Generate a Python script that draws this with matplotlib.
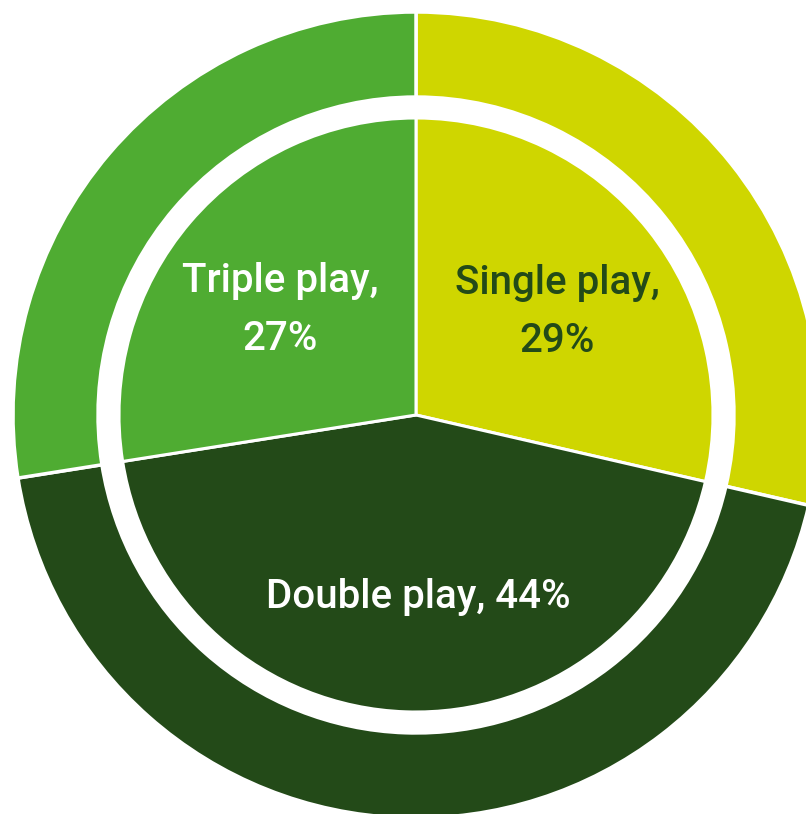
import matplotlib
matplotlib.use("Agg")
import matplotlib.pyplot as plt

# Data (wedge sizes, labels as printed)
labels = ["Single play", "Double play", "Triple play"]
shares = [28.6, 43.9, 27.5]
pct_labels = ["29%", "44%", "27%"]
colors = ["#cfd600", "#234a18", "#4fac32"]
text_colors = ["#234a18", "white", "white"]

W, H = 806, 814
fig = plt.figure(figsize=(W / 100, H / 100), dpi=100)
fig.patch.set_facecolor("white")

# circle centre at (416, 415) px, outer radius 403 px
cx, cy, r = 416, 415, 403
ax = fig.add_axes([(cx - r) / W, (H - cy - r) / H, 2 * r / W, 2 * r / H])
ax.axis("off")

# outer ring
ax.pie(shares, colors=colors, startangle=90, counterclock=False, radius=1.0,
       wedgeprops=dict(width=1.0 - 0.789, edgecolor="white", linewidth=2.5))
# inner pie
ax.pie(shares, colors=colors, startangle=90, counterclock=False, radius=0.737,
       wedgeprops=dict(edgecolor="white", linewidth=2.2))

ax.set_xlim(-1, 1)
ax.set_ylim(-1, 1)
ax.set_aspect("equal")

font = dict(family=["Roboto", "DejaVu Sans"], fontsize=29, fontweight="medium",
            ha="center", va="center", linespacing=1.65)
ax.text(0.35, 0.256, f"{labels[0]},\n{pct_labels[0]}", color=text_colors[0], **font)
ax.text(0.005, -0.452, f"{labels[1]}, {pct_labels[1]}", color=text_colors[1], **font)
ax.text(-0.337, 0.261, f"{labels[2]},\n{pct_labels[2]}", color=text_colors[2], **font)

fig.savefig("out.png", dpi=100)
